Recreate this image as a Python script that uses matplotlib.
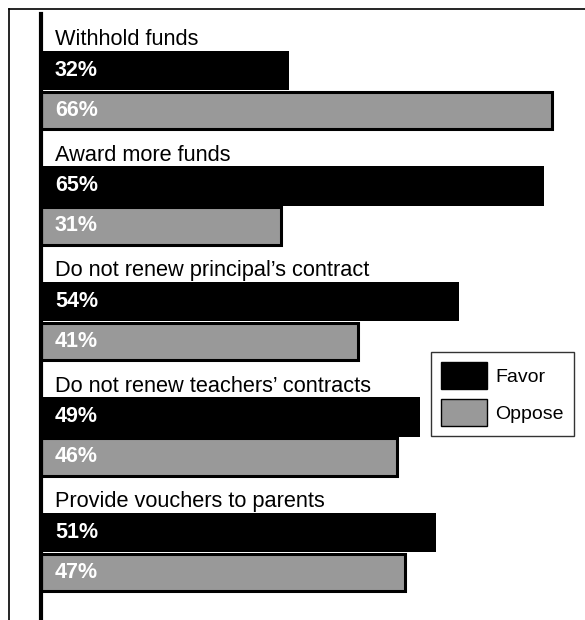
import numpy as np
import matplotlib
matplotlib.use("Agg")
import matplotlib.pyplot as plt
from matplotlib.patches import Patch
from matplotlib.lines import Line2D

plt.rcParams['font.family'] = ['Liberation Sans', 'DejaVu Sans']

# Survey results: share favoring / opposing each action
actions = [
    "Withhold funds",
    "Award more funds",
    "Do not renew principal\u2019s contract",
    "Do not renew teachers\u2019 contracts",
    "Provide vouchers to parents",
]
favor = [32, 65, 54, 49, 51]
oppose = [66, 31, 41, 46, 47]

GRAY = "#999999"

fig = plt.figure(figsize=(5.85, 6.20), dpi=100)
W, H = 585, 620

# outer frame (top and left edges only)
fig.add_artist(Line2D([9 / W, 1.0], [1 - 8.5 / H, 1 - 8.5 / H], color="black", lw=1.2))
fig.add_artist(Line2D([9 / W, 9 / W], [0, 1 - 8.5 / H], color="black", lw=1.2))

ax = fig.add_axes([41 / W, 0, 542 / W, 1 - 14 / H])

pos = np.arange(len(actions))
ax.barh(pos, favor, height=0.345, color="black", edgecolor="black", linewidth=0)
ax.barh(pos + 0.345, oppose, height=0.325, color=GRAY, edgecolor="black", linewidth=2.2)

for i, (name, f, o) in enumerate(zip(actions, favor, oppose)):
    ax.text(1.8, i - 0.265, name, fontsize=15.7, va="center", ha="left", color="black")
    ax.text(1.8, i, f"{f}%", fontsize=15.5, fontweight="bold", va="center", ha="left", color="white")
    ax.text(1.8, i + 0.345, f"{o}%", fontsize=15.5, fontweight="bold", va="center", ha="left", color="white")

ax.set_xlim(0, 70)
ax.set_ylim(4.758, -0.489)
ax.set_xticks([])
ax.set_yticks([])
for side in ["top", "right", "bottom"]:
    ax.spines[side].set_visible(False)
ax.spines["left"].set_linewidth(3)

handles = [
    Patch(facecolor="black", edgecolor="black", linewidth=1),
    Patch(facecolor=GRAY, edgecolor="black", linewidth=1),
]
leg = fig.legend(handles, ["Favor", "Oppose"], loc="upper left",
                 bbox_to_anchor=(431 / W, 1 - 352 / H), fontsize=14,
                 frameon=True, fancybox=False, handlelength=2.37, handleheight=1.8,
                 borderpad=0.5, labelspacing=0.5, handletextpad=0.45, borderaxespad=0)
leg.get_frame().set_edgecolor("black")
leg.get_frame().set_linewidth(1)

fig.savefig("out.png", dpi=100, facecolor="white")
